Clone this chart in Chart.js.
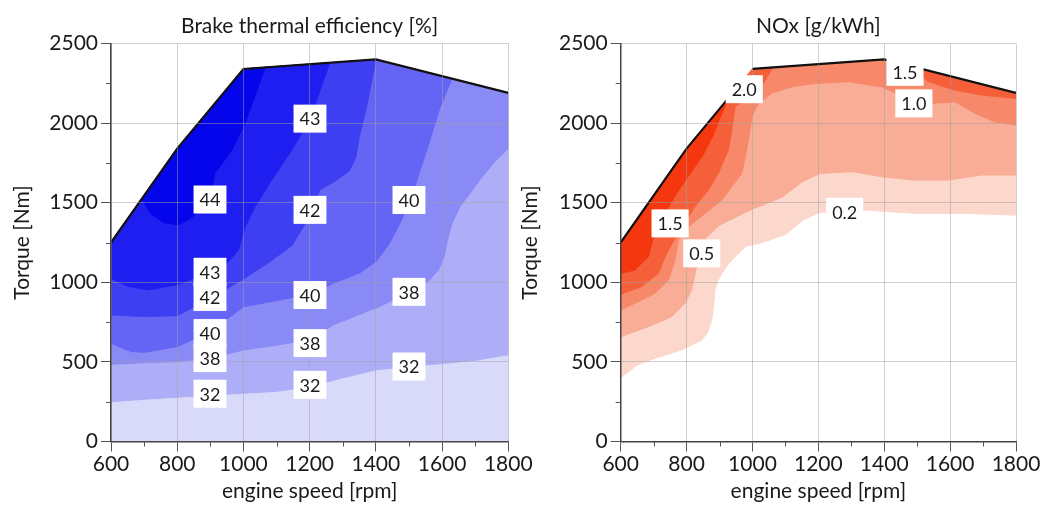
<!DOCTYPE html>
<html><head><meta charset="utf-8">
<script src="https://cdn.jsdelivr.net/npm/chart.js@4.4.1/dist/chart.umd.min.js"></script>
<style>
html,body{margin:0;padding:0;background:#fff;width:1046px;height:515px;overflow:hidden;}
#c1{position:absolute;left:0;top:0;}
#c2{position:absolute;left:505px;top:0;}
</style></head><body>
<canvas id="c1" width="545" height="515"></canvas>
<canvas id="c2" width="541" height="515"></canvas>
<script>
// ---- axes ----
const xTickValues = [600, 800, 1000, 1200, 1400, 1600, 1800];
const yTickValues = [0, 500, 1000, 1500, 2000, 2500];
const xMinorTicks = [700, 900, 1100, 1300, 1500, 1700];
const yMinorTicks = [250, 750, 1250, 1750, 2250];

// ---- full-load curve (envelope) ----
const fullLoadRpm    = [600, 800, 1000, 1400, 1800];
const fullLoadTorque = [1250, 1840, 2340, 2400, 2190];

// ---- Brake thermal efficiency contour lines [%] ----
const bteBaseRpm = [600, 1800];
const bteBaseTorque = [0, 0];
const bte32Rpm    = [600, 700, 800, 900, 1000, 1100, 1200, 1300, 1400, 1500, 1600, 1700, 1800];
const bte32Torque = [250, 265, 278, 292, 303, 315, 345, 400, 450, 472, 490, 510, 545];
const bte38Rpm    = [600, 700, 800, 900, 1000, 1100, 1200, 1272, 1373, 1413, 1500, 1560, 1590, 1606, 1616, 1630, 1654, 1714, 1760, 1800];
const bte38Torque = [485, 495, 502, 524, 575, 605, 640, 733, 817, 849, 940, 1010, 1080, 1160, 1265, 1370, 1475, 1642, 1760, 1840];
const bte40Rpm    = [600, 630, 660, 700, 800, 900, 1000, 1100, 1200, 1272, 1352, 1400, 1440, 1475, 1504, 1530, 1554, 1594, 1630];
const bte40Torque = [617, 590, 565, 560, 596, 690, 847, 885, 925, 994, 1060, 1130, 1240, 1380, 1517, 1680, 1831, 2100, 2279];
const bte42Rpm    = [600, 700, 800, 900, 1000, 1080, 1146, 1190, 1231, 1280, 1320, 1340, 1350, 1372, 1400];
const bte42Torque = [795, 785, 790, 900, 1020, 1130, 1230, 1380, 1580, 1640, 1700, 1789, 1915, 2103, 2400];
const bte43Rpm    = [600, 650, 712, 800, 899, 950, 985, 1005, 1035, 1085, 1146, 1201, 1230, 1261];
const bte43Torque = [1025, 975, 952, 985, 1064, 1120, 1203, 1349, 1475, 1642, 1831, 2025, 2200, 2379];
const bte44Rpm    = [693, 720, 760, 803, 833, 870, 899, 914, 965, 1005, 1040, 1065];
const bte44Torque = [1524, 1430, 1375, 1360, 1391, 1450, 1529, 1685, 1831, 1999, 2200, 2350];

const bteLabelText   = ['43', '44', '42', '40', '43', '42', '40', '38', '40', '38', '38', '32', '32', '32'];
const bteLabelRpm    = [1201, 899, 1201, 1500, 899, 899, 1201, 1500, 899, 899, 1201, 1500, 899, 1201];
const bteLabelTorque = [2028, 1520, 1455, 1517, 1066, 908, 920, 940, 681, 524, 618, 471, 300, 356];

// ---- NOx contour lines [g/kWh] ----
const nox02Rpm    = [600, 650, 700, 785, 846, 865, 876, 882, 886, 895, 907, 925, 947, 980, 1030, 1100, 1154, 1205, 1276, 1342, 1493, 1645, 1800];
const nox02Torque = [400, 480, 520, 575, 637, 690, 763, 850, 951, 1010, 1056, 1110, 1160, 1225, 1250, 1300, 1391, 1440, 1445, 1454, 1433, 1433, 1422];
const nox05Rpm    = [600, 684, 755, 795, 815, 826, 835, 860, 900, 1000, 1090, 1150, 1205, 1306, 1392, 1493, 1595, 1696, 1800];
const nox05Torque = [658, 721, 784, 868, 951, 1056, 1150, 1280, 1360, 1460, 1535, 1630, 1684, 1695, 1663, 1642, 1642, 1674, 1674];
const nox10Rpm    = [600, 643, 704, 745, 765, 775, 806, 856, 907, 937, 968, 988, 998, 1018, 1058, 1119, 1190, 1291, 1392, 1488, 1545, 1615, 1676, 1736, 1800];
const nox10Torque = [826, 868, 931, 1014, 1140, 1265, 1349, 1433, 1517, 1600, 1684, 1893, 2040, 2124, 2187, 2228, 2249, 2260, 2228, 2140, 2124, 2134, 2061, 2008, 1988];
const nox15Rpm    = [600, 664, 714, 735, 745, 785, 826, 866, 896, 927, 937, 947, 990, 1018, 1045, 1062];
const nox15Torque = [925, 973, 1056, 1160, 1203, 1349, 1475, 1580, 1684, 1831, 1956, 2103, 2160, 2200, 2290, 2349];
const nox15bRpm    = [1470, 1534, 1615, 1696, 1800];
const nox15bTorque = [2363, 2260, 2207, 2176, 2155];
const nox20Rpm    = [600, 643, 684, 700, 730, 770, 810, 850, 880, 905, 927];
const nox20Torque = [1056, 1077, 1160, 1290, 1420, 1560, 1680, 1800, 1920, 2050, 2157];
const noxOutlineRpm    = [600, 800, 927, 960, 1000, 1400, 1800];
const noxOutlineTorque = [1250, 1840, 2157, null, 2340, 2400, 2190];

const noxLabelText   = ['2.0', '1.5', '1.0', '1.5', '0.5', '0.2'];
const noxLabelRpm    = [975, 1463, 1490, 750, 846, 1280];
const noxLabelTorque = [2213, 2322, 2124, 1370, 1182, 1443];

// ---- helpers ----
function closedShape(rpm, torque) {
  const pts = rpm.map((x, i) => ({x: x, y: torque[i]}));
  const x0 = rpm[0], x1 = rpm[rpm.length - 1];
  const y0 = torque[0], y1 = torque[torque.length - 1];
  for (let i = fullLoadRpm.length - 1; i >= 0; i--) {
    const ex = fullLoadRpm[i], ey = fullLoadTorque[i];
    if (ex <= x1 && ex >= x0) {
      if ((ex === x1 && ey === y1) || (ex === x0 && ey === y0)) continue;
      pts.push({x: ex, y: ey});
    }
  }
  pts.push({x: x0, y: y0});
  return pts;
}
function line(rpm, torque) { return rpm.map((x, i) => ({x: x, y: torque[i]})); }

const FONT = 'Lato';
const labelPlugin = {
  id: 'contourLabels',
  afterDraw(chart, args, opts) {
    const ctx = chart.ctx, xs = chart.scales.x, ys = chart.scales.y;
    ctx.save();
    ctx.font = '18px ' + FONT;
    ctx.textAlign = 'center';
    ctx.textBaseline = 'middle';
    const pos = opts.text.map((t, i) => [xs.getPixelForValue(opts.rpm[i]), ys.getPixelForValue(opts.torque[i])]);
    ctx.fillStyle = '#ffffff';
    opts.text.forEach((t, i) => {
      const w = ctx.measureText(t).width + 12, h = 28;
      ctx.fillRect(pos[i][0] - w / 2, pos[i][1] - h / 2, w, h);
    });
    ctx.fillStyle = '#1a1a1a';
    opts.text.forEach((t, i) => ctx.fillText(t, pos[i][0], pos[i][1] + 1));
    ctx.restore();
  }
};
const minorTickPlugin = {
  id: 'minorTicks',
  afterDraw(chart) {
    const ctx = chart.ctx, xs = chart.scales.x, ys = chart.scales.y, a = chart.chartArea;
    ctx.save();
    ctx.strokeStyle = '#555';
    ctx.lineWidth = 1;
    ctx.beginPath();
    xMinorTicks.forEach(v => { const p = Math.round(xs.getPixelForValue(v)) + 0.5; ctx.moveTo(p, a.bottom); ctx.lineTo(p, a.bottom + 5); });
    yMinorTicks.forEach(v => { const p = Math.round(ys.getPixelForValue(v)) + 0.5; ctx.moveTo(a.left, p); ctx.lineTo(a.left - 5, p); });
    ctx.stroke();
    ctx.restore();
  }
};

function makeChart(id, cfg) {
  const datasets = cfg.layers.map((l, i) => ({
    data: closedShape(l.rpm, l.torque),
    showLine: true, fill: 'shape',
    backgroundColor: l.color, borderColor: l.color, borderWidth: 1,
    pointRadius: 0, pointHoverRadius: 0, tension: 0,
    order: cfg.layers.length - i + 1
  }));
  datasets.push({
    data: line(cfg.outlineRpm, cfg.outlineTorque),
    showLine: true, fill: false, spanGaps: false,
    borderColor: '#111', borderWidth: 2.2, pointRadius: 0, pointHoverRadius: 0, tension: 0,
    order: 0
  });
  const tickFmt = v => String(v);
  const gridOpts = {display: true, drawOnChartArea: true, color: 'rgba(160,160,160,0.5)', tickColor: '#555', tickLength: 10, lineWidth: 1, z: 1};
  return new Chart(document.getElementById(id), {
    type: 'scatter',
    data: {datasets: datasets},
    options: {
      responsive: false, animation: false, devicePixelRatio: 1, events: [],
      layout: {padding: {left: cfg.padLeft, right: cfg.padRight, top: 0, bottom: 0}},
      plugins: {
        legend: {display: false}, tooltip: {enabled: false},
        title: {display: true, text: cfg.title, fullSize: false, color: '#1a1a1a',
                font: {family: FONT, size: 21, weight: 'normal'}, padding: {top: 13.4, bottom: 4.9}},
        contourLabels: {text: cfg.labelText, rpm: cfg.labelRpm, torque: cfg.labelTorque}
      },
      scales: {
        x: {
          type: 'linear', min: 600, max: 1800,
          afterBuildTicks: s => { s.ticks = xTickValues.map(v => ({value: v})); },
          afterFit: s => { s.height = 73.5; },
          ticks: {color: '#1a1a1a', font: {family: FONT, size: 21}, padding: 0, maxRotation: 0, autoSkip: false, callback: tickFmt},
          grid: gridOpts,
          border: {color: '#444', width: 1.5, z: 2},
          title: {display: true, text: 'engine speed [rpm]', color: '#1a1a1a',
                  font: {family: FONT, size: 21}, padding: {top: 0, bottom: 11.4}}
        },
        y: {
          type: 'linear', min: 0, max: 2500,
          afterBuildTicks: s => { s.ticks = yTickValues.map(v => ({value: v})); },
          afterFit: s => { s.width = cfg.yWidth; },
          ticks: {color: '#1a1a1a', font: {family: FONT, size: 21}, padding: 3, autoSkip: false, callback: tickFmt},
          grid: gridOpts,
          border: {color: '#444', width: 1.5, z: 2},
          title: {display: true, text: 'Torque [Nm]', color: '#1a1a1a',
                  font: {family: FONT, size: 21}, padding: {top: 0, bottom: 0}}
        }
      }
    },
    plugins: [labelPlugin, minorTickPlugin]
  });
}

makeChart('c1', {
  title: 'Brake thermal efficiency [%]',
  padLeft: 9.4, padRight: 36.7, yWidth: 101.6,
  layers: [
    {rpm: bteBaseRpm, torque: bteBaseTorque, color: 'rgb(217,217,250)'},
    {rpm: bte32Rpm, torque: bte32Torque, color: 'rgb(174,174,248)'},
    {rpm: bte38Rpm, torque: bte38Torque, color: 'rgb(138,138,246)'},
    {rpm: bte40Rpm, torque: bte40Torque, color: 'rgb(100,100,245)'},
    {rpm: bte42Rpm, torque: bte42Torque, color: 'rgb(62,62,242)'},
    {rpm: bte43Rpm, torque: bte43Torque, color: 'rgb(30,30,240)'},
    {rpm: bte44Rpm, torque: bte44Torque, color: 'rgb(5,5,236)'}
  ],
  outlineRpm: fullLoadRpm, outlineTorque: fullLoadTorque,
  labelText: bteLabelText, labelRpm: bteLabelRpm, labelTorque: bteLabelTorque
});

makeChart('c2', {
  title: 'NOx [g/kWh]',
  padLeft: 12.4, padRight: 30, yWidth: 103.3,
  layers: [
    {rpm: nox02Rpm, torque: nox02Torque, color: 'rgb(252,215,203)'},
    {rpm: nox05Rpm, torque: nox05Torque, color: 'rgb(249,172,150)'},
    {rpm: nox10Rpm, torque: nox10Torque, color: 'rgb(247,136,106)'},
    {rpm: nox15Rpm, torque: nox15Torque, color: 'rgb(245,96,58)'},
    {rpm: nox15bRpm, torque: nox15bTorque, color: 'rgb(245,96,58)'},
    {rpm: nox20Rpm, torque: nox20Torque, color: 'rgb(245,55,15)'}
  ],
  outlineRpm: noxOutlineRpm, outlineTorque: noxOutlineTorque,
  labelText: noxLabelText, labelRpm: noxLabelRpm, labelTorque: noxLabelTorque
});
</script>
</body></html>
